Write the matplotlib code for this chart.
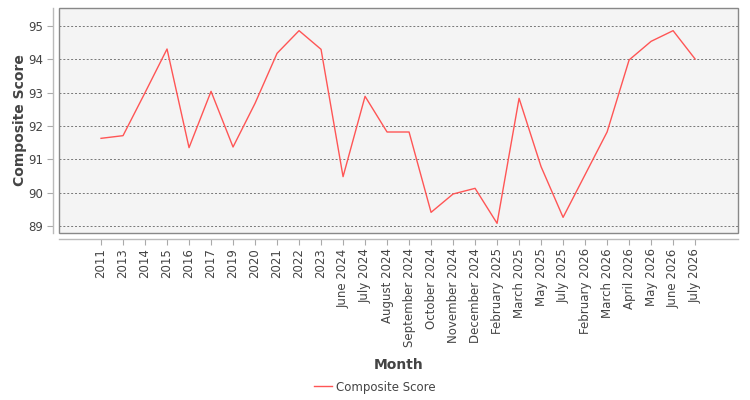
import matplotlib
matplotlib.use("Agg")
import matplotlib.pyplot as plt
import numpy as np
from matplotlib.patches import Rectangle

months = ["2011", "2013", "2014", "2015", "2016", "2017", "2019", "2020", "2021", "2022", "2023",
          "June 2024", "July 2024", "August 2024", "September 2024", "October 2024",
          "November 2024", "December 2024", "February 2025", "March 2025", "May 2025",
          "July 2025", "February 2026", "March 2026", "April 2026", "May 2026",
          "June 2026", "July 2026"]
composite_score = [91.63, 91.71, 93.0, 94.31, 91.35, 93.04, 91.37, 92.68, 94.18, 94.86, 94.30,
                   90.48, 92.89, 91.82, 91.82, 89.41, 89.96, 90.13, 89.08, 92.83, 90.78,
                   89.26, 90.54, 91.82, 93.98, 94.54, 94.86, 94.01]
y_ticks = [89, 90, 91, 92, 93, 94, 95]

text_color = "#444444"
fig = plt.figure(figsize=(7.5, 4.0), dpi=100)
ax = fig.add_axes([59/750, (400-233)/400, (738-59)/750, 225/400])
ax.set_facecolor("#f4f4f4")

x = np.arange(len(months))
line, = ax.plot(x, composite_score, color="#ff5555", linewidth=1.0, label="Composite Score")

ax.set_xlim(-1.91, len(months) - 1 + 1.95)
ax.set_ylim(88.79, 95.54)
ax.set_yticks(y_ticks)
ax.set_xticks(x)
ax.set_xticklabels(months)
ax.yaxis.grid(True, color="#777777", linestyle=(0, (2, 2)), linewidth=0.7)
ax.xaxis.grid(False)
ax.set_axisbelow(True)

for s in ["top", "right"]:
    ax.spines[s].set_visible(False)
for s in ["left", "bottom"]:
    ax.spines[s].set_position(("outward", 4))
    ax.spines[s].set_color("#bbbbbb")
    ax.spines[s].set_linewidth(1.0)
ax.add_patch(Rectangle((0, 0), 1, 1, transform=ax.transAxes, fill=False,
                       edgecolor="#888888", linewidth=1.0, clip_on=False, zorder=5))

ax.tick_params(axis="both", colors="#aaaaaa", labelcolor=text_color, labelsize=8.5, length=4, width=0.8)
ax.tick_params(axis="x", labelrotation=90, pad=3)

ax.set_ylabel("Composite Score", fontsize=10, fontweight="bold", color=text_color, labelpad=1)
ax.set_xlabel("Month", fontsize=10, fontweight="bold", color=text_color, labelpad=8)

fig.legend(handles=[line], loc="center", bbox_to_anchor=(0.5, 1 - 387/400), frameon=False,
           fontsize=8.5, handlelength=1.5, handletextpad=0.4, labelcolor=text_color)

fig.savefig("out.png", dpi=100)
